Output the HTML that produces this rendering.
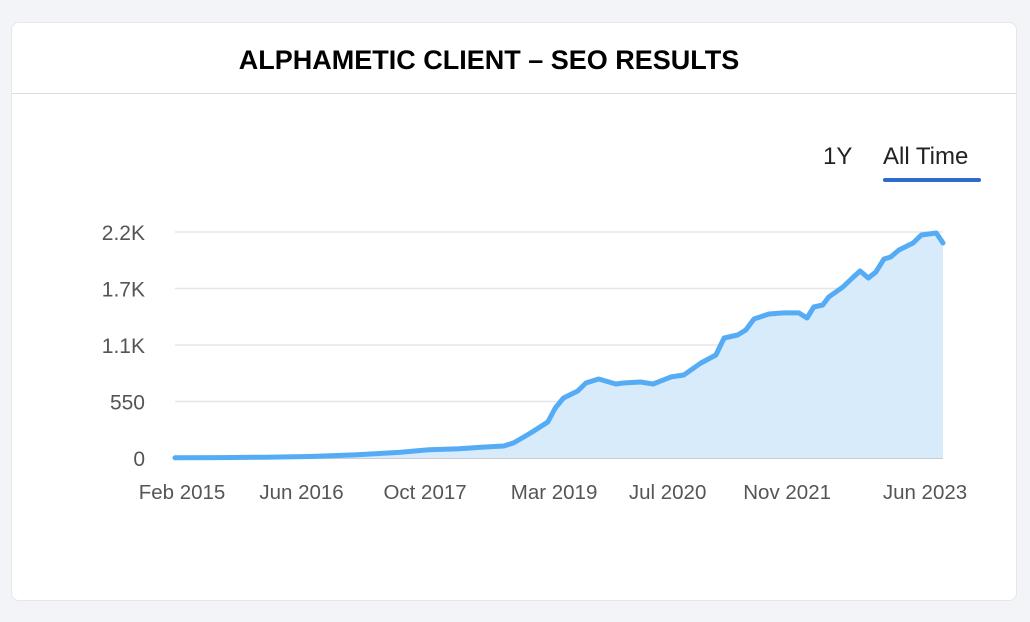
<!DOCTYPE html>
<html><head><meta charset="utf-8"><style>
body{margin:0;width:1030px;height:622px;background:#f3f4f7;font-family:"Liberation Sans",Arial,sans-serif;overflow:hidden}
.card{position:absolute;left:11px;top:22px;width:1004px;height:577px;background:#fff;border-radius:8px;border:1px solid #e4e6ea}
.title{position:absolute;left:0;top:0;height:71px;line-height:74px;text-align:center;font-weight:bold;font-size:27px;color:#000;border-bottom:1px solid #dcdde2;width:1004px;padding-right:50px;box-sizing:border-box}
.tab{position:absolute;top:120px;font-size:24px;color:#222}
</style></head><body>
<div class="card">
<div class="title">ALPHAMETIC CLIENT – SEO RESULTS</div>
<div class="tab" style="left:811px">1Y</div>
<div class="tab" style="left:871px">All Time</div>
<div style="position:absolute;left:871px;top:155px;width:98px;height:4px;background:#2f6bcf;border-radius:2px"></div>
</div>
<svg id="chart" width="1030" height="622" style="position:absolute;left:0;top:0"></svg>
<script>
const months=[0,6,12,18,24,30,34,38,41,44,45.3,47.6,49.9,50.9,52,53.9,55,56.7,59,60,62.3,64,66.4,68.1,70.4,72.4,73.5,75.3,76.4,77.5,79.5,81.5,83.5,84.6,85.5,86.7,87.5,89.4,90.8,91.7,92.8,93.8,94.9,95.8,96.9,98.8,99.9,101.9,102.8];
const values=[2,4,8,15,30,55,80,90,105,117,146,243,350,487,584,652,730,769,720,730,740,720,789,808,925,1003,1168,1197,1246,1353,1402,1412,1412,1363,1470,1489,1567,1665,1762,1820,1752,1810,1937,1957,2025,2093,2171,2190,2093];
const yTicks=[0,550,1100,1650,2200];
const yTickLabels=["0","550","1.1K","1.7K","2.2K"];
const xTickMonths=[0,16,32,49,65,81,100];
const xTickLabels=["Feb 2015","Jun 2016","Oct 2017","Mar 2019","Jul 2020","Nov 2021","Jun 2023"];
const svg=document.getElementById('chart');const NS="http://www.w3.org/2000/svg";
const X0=175,X1=943,Y0=458,Y1=232;
const x=m=>X0+m*(X1-X0)/102.8;
const y=v=>Y0-v*(Y0-Y1)/2200;
function mk(t,a){const e=document.createElementNS(NS,t);for(const k in a)e.setAttribute(k,a[k]);svg.appendChild(e);return e;}
yTicks.forEach((v,i)=>{
 const g=mk('line',{x1:X0,x2:X1,y1:y(v),y2:y(v),stroke:i==0?'#c9ccd2':'#e3e5e9','stroke-width':i==0?2:1.5});
 
 
 const t=mk('text',{x:145,y:y(v)+8,'text-anchor':'end','font-size':21,fill:'#555','font-family':'Liberation Sans, sans-serif'});
 t.textContent=yTickLabels[i];
 
 
});
xTickMonths.forEach((m,i)=>{
 const t=mk('text',{x:Math.min(x(m)+7+(i==2?4:0)+(i==3?6:0),925),y:499,'text-anchor':'middle','font-size':20.5,fill:'#555','font-family':'Liberation Sans, sans-serif'});
 t.textContent=xTickLabels[i];
 
 
});
let d=months.map((m,i)=>(i?'L':'M')+x(m).toFixed(1)+','+y(values[i]).toFixed(1)).join('');
const area=mk('path',{d:d+`L${x(months[months.length-1])},${Y0}L${x(0)},${Y0}Z`,fill:'#d7ebfb'});


const line=mk('path',{d:d,fill:'none',stroke:'#55acf5','stroke-width':5,'stroke-linejoin':'round','stroke-linecap':'round'});


</script>
</body></html>
